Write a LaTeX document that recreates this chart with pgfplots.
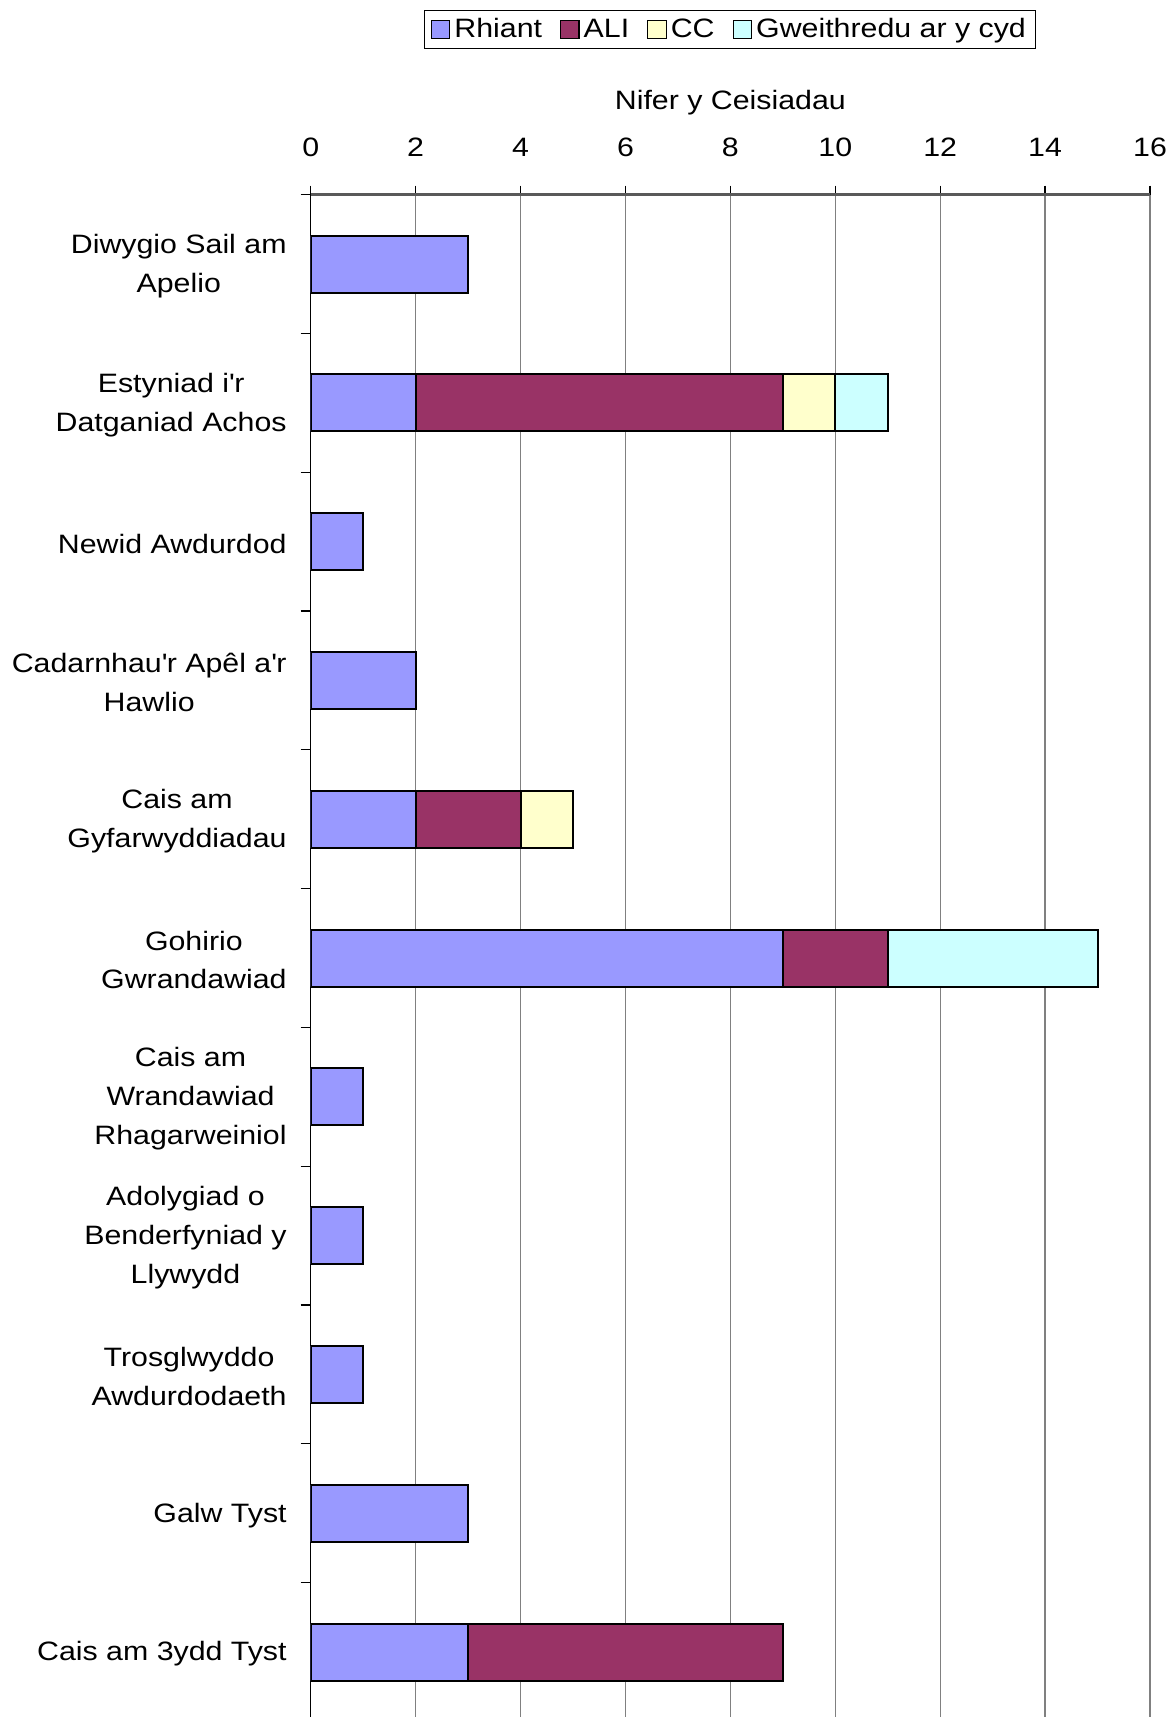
\documentclass[border=0pt]{standalone}
\usepackage{fontspec}
\setmainfont[FakeStretch=1.14]{Liberation Sans}
\usepackage{pgfplots}
\pgfplotsset{compat=1.18}
\definecolor{rhiant}{HTML}{9999FF}
\definecolor{ali}{HTML}{993366}
\definecolor{cc}{HTML}{FFFFCC}
\definecolor{gweith}{HTML}{CCFFFF}
\newcommand{\chartfont}{\fontsize{13.3}{19.4}\selectfont}
\newcommand{\q}{\textquotesingle}
\pgfplotsset{
  sqlegend/.style={legend image code/.code={\draw[##1,line width=0.6pt] (0pt,-4.6pt) rectangle (9.2pt,4.6pt);}},
}

\begin{document}
\begin{tikzpicture}
\useasboundingbox (-155.35pt,0) rectangle (431.15pt,858.5pt);
\begin{axis}[
    at={(0,0)}, anchor=south west,
    scale only axis, width=419.65pt, height=761.15pt,
    xbar stacked, bar width=28.5pt,
    xmin=0, xmax=16, xtick={0,2,...,16},
    ymin=-0.5, ymax=10.468, y dir=reverse,
    ytick={0,...,10},
    yticklabels={
      {Diwygio Sail am\\Apelio},
      {Estyniad i\q r\\Datganiad Achos},
      {Newid Awdurdod},
      {Cadarnhau\q r Apêl a\q r\\Hawlio},
      {Cais am\\Gyfarwyddiadau},
      {Gohirio\\Gwrandawiad},
      {Cais am\\Wrandawiad\\Rhagarweiniol},
      {Adolygiad o\\Benderfyniad y\\Llywydd},
      {Trosglwyddo\\Awdurdodaeth},
      {Galw Tyst},
      {Cais am 3ydd Tyst}},
    minor ytick={-0.5,0.5,...,9.5},
    axis x line=top, axis y line=left,
    axis line style={-},
    x axis line style={black!65, line width=1.3pt},
    y axis line style={black, line width=0.6pt},
    tick align=outside,
    major tick length=4.5pt, minor tick length=5pt,
    major x tick style={black, line width=0.6pt},
    major y tick style={draw=none},
    minor y tick style={black, line width=0.6pt},
    xmajorgrids, grid style={black!50, line width=0.6pt},
    /pgf/number format/assume math mode=true,
    tick label style={font=\chartfont},
    xticklabel style={anchor=base, yshift=14.4pt},
    yticklabel style={align=center, anchor=east, inner sep=0pt, xshift=-7.35pt, yshift=-1pt},
    xlabel={Nifer y Ceisiadau},
    xlabel style={font=\chartfont, at={(axis description cs:0.5,1)}, anchor=base, yshift=42.5pt},
    legend columns=4,
    legend cell align=left,
    legend style={font=\chartfont, at={(axis description cs:0.5,1)}, anchor=south, yshift=72.65pt,
      draw=black, line width=0.6pt, inner xsep=3pt, inner ysep=2pt,
      /tikz/every even column/.append style={column sep=7pt}},
]
\addplot[fill=rhiant, draw=black, line width=1pt, sqlegend] coordinates {
  (3,0) (2,1) (1,2) (2,3) (2,4) (9,5) (1,6) (1,7) (1,8) (3,9) (3,10)};
\addplot[fill=ali, draw=black, line width=1pt, sqlegend] coordinates {
  (0,0) (7,1) (0,2) (0,3) (2,4) (2,5) (0,6) (0,7) (0,8) (0,9) (6,10)};
\addplot[fill=cc, draw=black, line width=1pt, sqlegend] coordinates {
  (0,0) (1,1) (0,2) (0,3) (1,4) (0,5) (0,6) (0,7) (0,8) (0,9) (0,10)};
\addplot[fill=gweith, draw=black, line width=1pt, sqlegend] coordinates {
  (0,0) (1,1) (0,2) (0,3) (0,4) (4,5) (0,6) (0,7) (0,8) (0,9) (0,10)};
\legend{Rhiant, ALI, CC, Gweithredu ar y cyd}
\end{axis}
\end{tikzpicture}
\end{document}
